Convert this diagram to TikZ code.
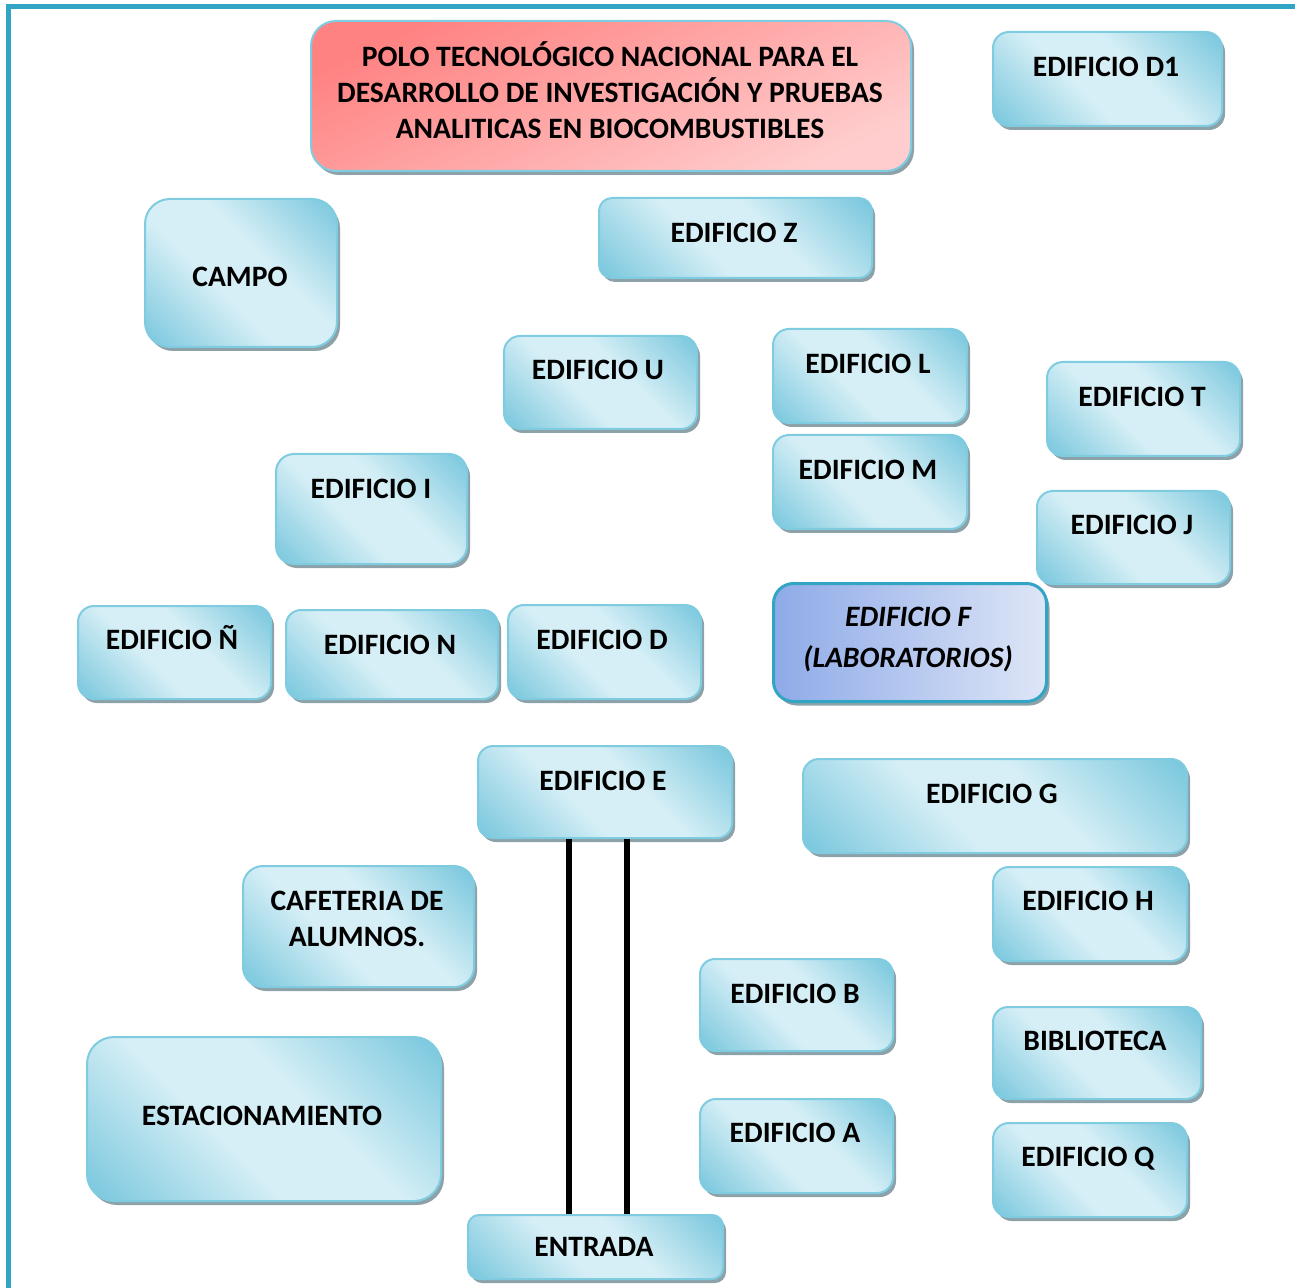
\documentclass[tikz,border=0pt]{standalone}
\usepackage{fontspec}
\setmainfont{Carlito}
\usetikzlibrary{shadows,positioning}
\definecolor{bdark}{HTML}{7CC8DE}
\definecolor{blight}{HTML}{D6EFF6}
\definecolor{bline}{HTML}{7FCCE1}
\definecolor{framecol}{HTML}{31A5C3}
\definecolor{pdark}{HTML}{FF8282}
\definecolor{plight}{HTML}{FFCDCD}
\definecolor{fleft}{HTML}{8EAAE8}
\definecolor{fright}{HTML}{DEE6F7}
\definecolor{shadowcol}{HTML}{8DA1A8}
\pgfdeclarehorizontalshading{bandblue}{100bp}{color(0bp)=(bdark); color(16bp)=(bdark); color(42bp)=(blight); color(58bp)=(blight); color(84bp)=(bdark); color(100bp)=(bdark)}
\tikzset{
  sombra/.style={drop shadow={shadow xshift=1.5pt,shadow yshift=-2pt,fill=shadowcol,opacity=1}},
  caja/.style={draw=bline, line width=1pt, shading=bandblue, shading angle=45, sombra, anchor=north west, inner sep=0pt},
  titulo/.style={draw=bline, line width=1pt, top color=pdark, bottom color=plight, shading angle=25, sombra, anchor=north west, inner sep=0pt},
  lab/.style={draw=framecol, line width=1.5pt, left color=fleft, right color=fright, sombra, anchor=north west, inner sep=0pt},
  txt/.style={font=\bfseries\fontsize{14.8pt}{18pt}\selectfont, inner sep=0pt, align=center, text height=1.38ex, text depth=0pt, yshift=-2pt},
  mtxt/.style={font=\bfseries\fontsize{14.8pt}{18pt}\selectfont, inner sep=0pt, align=center},
  calle/.style={line width=3pt, black},
  marco/.style={line width=2.5pt, framecol}
}
\begin{document}
\begin{tikzpicture}[x=0.5pt, y=-0.5pt]
  \useasboundingbox (0,0) rectangle (1295,1288);
  \draw[marco] (8,1292) -- (8,7) -- (1299,7);
  % cajas
  \node[titulo, minimum width=300pt, minimum height=75pt, rounded corners=12.5pt] (title) at (310,20) {};
  \node[caja, minimum width=114.5pt, minimum height=47pt, rounded corners=8pt] (d1) at (992,31) {};
  \node[caja, minimum width=96pt, minimum height=74pt, rounded corners=12.5pt] (campo) at (144,198) {};
  \node[caja, minimum width=136.5pt, minimum height=40pt, rounded corners=6.5pt] (edz) at (598,197) {};
  \node[caja, minimum width=96.5pt, minimum height=46.5pt, rounded corners=8pt] (edu) at (503,335) {};
  \node[caja, minimum width=97pt, minimum height=47pt, rounded corners=8pt] (edl) at (772,328) {};
  \node[caja, minimum width=96.5pt, minimum height=47pt, rounded corners=8pt] (edt) at (1046,361) {};
  \node[caja, minimum width=95.5pt, minimum height=55pt, rounded corners=9pt] (edi) at (275,453) {};
  \node[caja, minimum width=97pt, minimum height=47pt, rounded corners=8pt] (edm) at (772,434) {};
  \node[caja, minimum width=96.5pt, minimum height=46.5pt, rounded corners=8pt] (edj) at (1036,490) {};
  \node[caja, minimum width=96.5pt, minimum height=46.5pt, rounded corners=8pt] (ednn) at (77,605) {};
  \node[caja, minimum width=106pt, minimum height=44.5pt, rounded corners=7.5pt] (edn) at (285,609) {};
  \node[caja, minimum width=96.5pt, minimum height=47pt, rounded corners=8pt] (edd) at (507,604) {};
  \node[lab, minimum width=136.5pt, minimum height=59pt, rounded corners=10pt] (edf) at (772,582) {};
  \node[caja, minimum width=127pt, minimum height=46pt, rounded corners=7.5pt] (ede) at (477,745) {};
  \node[caja, minimum width=192pt, minimum height=47pt, rounded corners=8pt] (edg) at (802,758) {};
  \node[caja, minimum width=115.5pt, minimum height=60.5pt, rounded corners=10pt] (cafe) at (242,865) {};
  \node[caja, minimum width=97pt, minimum height=47pt, rounded corners=8pt] (edh) at (992,866) {};
  \node[caja, minimum width=96.5pt, minimum height=46pt, rounded corners=7.5pt] (edb) at (699,958) {};
  \node[caja, minimum width=104pt, minimum height=46pt, rounded corners=7.5pt] (biblio) at (992,1006) {};
  \node[caja, minimum width=177pt, minimum height=82pt, rounded corners=13.5pt] (estac) at (86,1036) {};
  \node[caja, minimum width=96.5pt, minimum height=47pt, rounded corners=8pt] (eda) at (699,1098) {};
  \node[caja, minimum width=97pt, minimum height=47pt, rounded corners=8pt] (edq) at (992,1122) {};
  \node[caja, minimum width=127.5pt, minimum height=32pt, rounded corners=5.5pt] (entrada) at (467,1214) {};
  % textos
  \node[mtxt, yshift=1pt] (title-t) at (610,92) {POLO TECNOLÓGICO NACIONAL PARA EL\\DESARROLLO DE INVESTIGACIÓN Y PRUEBAS\\ANALITICAS EN BIOCOMBUSTIBLES};
  \node[txt] (d1-t) at (1106,66) {EDIFICIO D1};
  \node[txt] (campo-t) at (240,276) {CAMPO};
  \node[txt] (edz-t) at (734,232) {EDIFICIO Z};
  \node[txt] (edu-t) at (598,369) {EDIFICIO U};
  \node[txt] (edl-t) at (868,363) {EDIFICIO L};
  \node[txt] (edt-t) at (1142,396) {EDIFICIO T};
  \node[txt] (edi-t) at (371,488) {EDIFICIO I};
  \node[txt] (edm-t) at (868,469) {EDIFICIO M};
  \node[txt] (edj-t) at (1132,524) {EDIFICIO J};
  \node[txt] (ednn-t) at (172,639) {EDIFICIO Ñ};
  \node[txt] (edn-t) at (390,644) {EDIFICIO N};
  \node[txt] (edd-t) at (602,639) {EDIFICIO D};
  \node[mtxt, font=\bfseries\itshape\fontsize{14.8pt}{20.5pt}\selectfont, yshift=-1.5pt] (edf-t) at (908,637) {EDIFICIO F\\(LABORATORIOS)};
  \node[txt] (ede-t) at (603,780) {EDIFICIO E};
  \node[txt] (edg-t) at (992,793) {EDIFICIO G};
  \node[mtxt, yshift=-0.5pt] (cafe-t) at (357,918) {CAFETERIA DE\\ALUMNOS.};
  \node[txt] (edh-t) at (1088,900) {EDIFICIO H};
  \node[txt] (edb-t) at (795,993) {EDIFICIO B};
  \node[txt] (biblio-t) at (1095,1040) {BIBLIOTECA};
  \node[txt] (estac-t) at (262,1115) {ESTACIONAMIENTO};
  \node[txt] (eda-t) at (795,1132) {EDIFICIO A};
  \node[txt] (edq-t) at (1088,1156) {EDIFICIO Q};
  \node[txt] (entrada-t) at (594,1246) {ENTRADA};
  % accesos
  \draw[calle] ([xshift=-18pt]ede.south) -- ([xshift=-18pt]ede.south |- entrada.north);
  \draw[calle] ([xshift=11pt]ede.south) -- ([xshift=11pt]ede.south |- entrada.north);
\end{tikzpicture}
\end{document}
